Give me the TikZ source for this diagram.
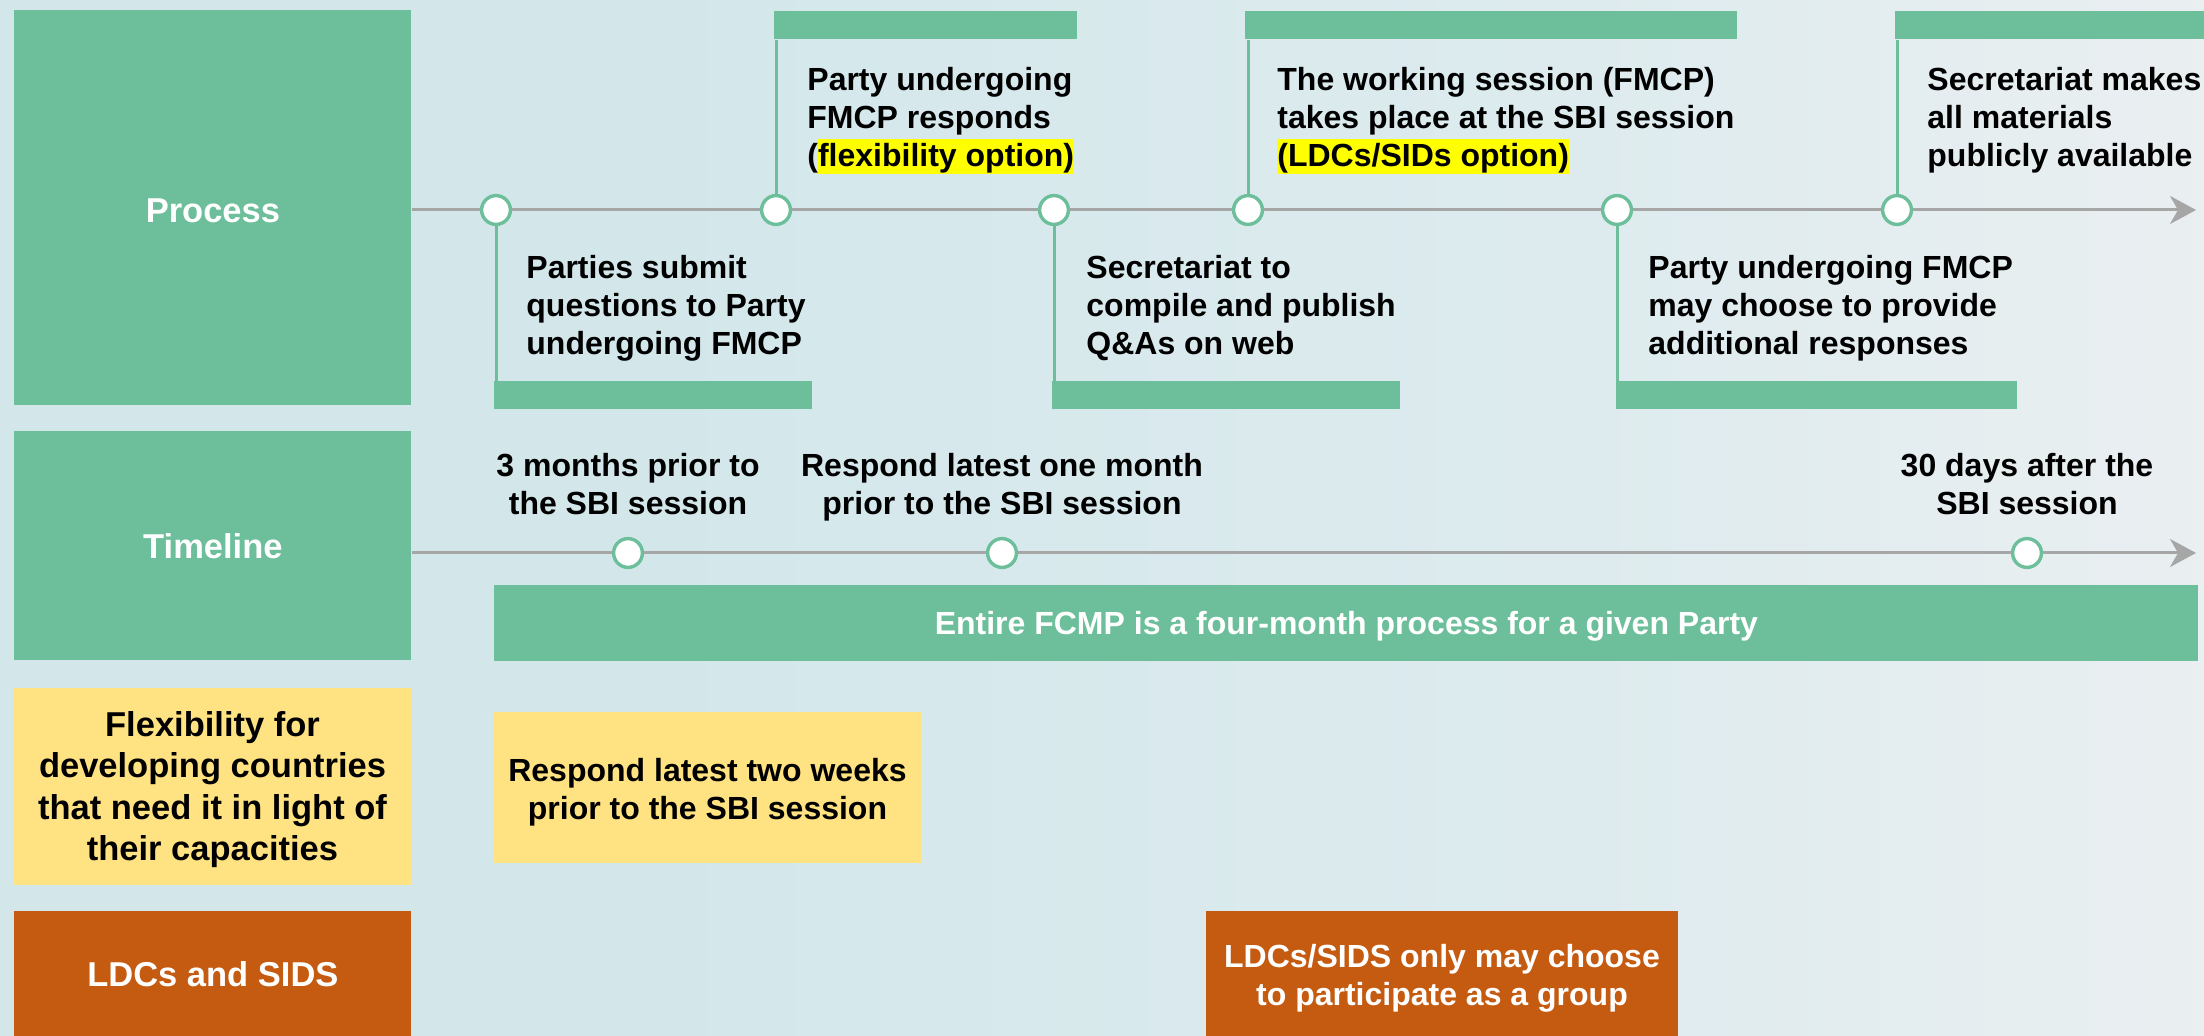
\documentclass[tikz,border=0pt]{standalone}
\usepackage{fontspec}
\setmainfont{Liberation Sans}
\usetikzlibrary{arrows.meta}
\definecolor{fgreen}{HTML}{6CBF9A}
\definecolor{fyellow}{HTML}{FFE281}
\definecolor{forange}{HTML}{C55A11}
\definecolor{lgray}{HTML}{A6A6A6}
\definecolor{hly}{HTML}{FFFF00}
\definecolor{bgA}{HTML}{CDDEE3}
\definecolor{bgB}{HTML}{D3E7EB}
\definecolor{bgC}{HTML}{DDEBEE}
\definecolor{bgD}{HTML}{EEF0F2}
\pgfdeclarehorizontalshading{bgshade}{100bp}{color(0bp)=(bgA); color(4bp)=(bgB); color(40bp)=(bgB); color(60bp)=(bgC); color(80bp)=(bgD); color(100bp)=(bgD)}
\newcommand{\hlt}[1]{{\setlength{\fboxsep}{0pt}\colorbox{hly}{\rule[-3.85pt]{0pt}{17.7pt}#1}}}
\begin{document}
\begin{tikzpicture}[x=0.5pt,y=-0.5pt,
  box/.style={fill=#1, draw=none, inner sep=0pt, anchor=north west},
  lbl/.style={font=\fontsize{17.25}{20.7}\selectfont\bfseries, align=center},
  txt/.style={font=\fontsize{16}{19}\selectfont\bfseries, inner sep=0pt},
  dot/.style={circle, draw=fgreen, line width=1.7pt, fill=white, minimum size=14.4pt, inner sep=0pt},
  conn/.style={draw=fgreen, line width=1.5pt},
  axis/.style={draw=lgray, line width=1.5pt, -{Stealth[length=13pt,width=14pt,inset=4pt]}}]
\useasboundingbox (0,0) rectangle (2204,1036);
\shade[shading=bgshade] (0,0) rectangle (2204,1036);

% left column
\node[box=fgreen, minimum width=198.5pt, minimum height=197.5pt, text=white, lbl, text height=14.5pt, text depth=0pt] (proc) at (14,10) {Process};
\node[box=fgreen, minimum width=198.5pt, minimum height=114.5pt, text=white, lbl] (tline) at (14,431) {Timeline};
\node[box=fyellow, minimum width=198.5pt, minimum height=98.5pt] (flex) at (14,688) {};
\node[lbl, inner sep=0pt, anchor=north] (flext) at (212.5,707) {\strut Flexibility for\\developing countries\\that need it in light of\\their capacities};
\node[box=forange, minimum width=198.5pt, minimum height=62.5pt, text=white, lbl] (ldc) at (14,911) {LDCs and SIDS};

% callout bars
\node[box=fgreen, minimum width=151.5pt, minimum height=14pt] (b2) at (774,11) {};
\node[box=fgreen, minimum width=246pt, minimum height=14pt] (b4) at (1245,11) {};
\node[box=fgreen, minimum width=155pt, minimum height=14pt] (b6) at (1895,11) {};
\node[box=fgreen, minimum width=159pt, minimum height=14pt] (b1) at (494,381) {};
\node[box=fgreen, minimum width=174pt, minimum height=14pt] (b3) at (1052,381) {};
\node[box=fgreen, minimum width=200.5pt, minimum height=14pt] (b5) at (1616,381) {};

% axes
\coordinate (ptip) at (2196,210);
\coordinate (ttip) at (2196,553);
\draw[axis] (proc.east |- ptip) -- (ptip);
\draw[axis] (tline.east |- ttip) -- (ttip);

% process milestones
\node[dot] (p1) at (496,210) {};
\node[dot] (p2) at (776,210) {};
\node[dot] (p3) at (1054,210) {};
\node[dot] (p4) at (1248,210) {};
\node[dot] (p5) at (1617,210) {};
\node[dot] (p6) at (1897,210) {};
\draw[conn] (p1.south) -- (p1.south |- b1.north);
\draw[conn] (p2.north) -- (p2.north |- b2.south);
\draw[conn] (p3.south) -- (p3.south |- b3.north);
\draw[conn] (p4.north) -- (p4.north |- b4.south);
\draw[conn] (p5.south) -- (p5.south |- b5.north);
\draw[conn] (p6.north) -- (p6.north |- b6.south);

% callout texts
\node[txt, anchor=north west, align=left] (c1) at (526,252) {\strut Parties submit\\questions to Party\\undergoing FMCP};
\node[txt, anchor=north west, align=left] (c2) at (807,63.5) {\strut Party undergoing\\FMCP responds\\(\hlt{flexibility option)}};
\node[txt, anchor=north west, align=left] (c3) at (1086,252) {\strut Secretariat to\\compile and publish\\Q\&As on web};
\node[txt, anchor=north west, align=left] (c4) at (1277,63.5) {\strut The working session (FMCP)\\takes place at the SBI session\\\hlt{(LDCs/SIDs option)}};
\node[txt, anchor=north west, align=left] (c5) at (1648,252) {\strut Party undergoing FMCP\\may choose to provide\\additional responses};
\node[txt, anchor=north west, align=left] (c6) at (1927,63.5) {\strut Secretariat makes\\all materials\\publicly available};

% timeline milestones
\node[dot] (t1) at (628,553) {};
\node[dot] (t2) at (1002,553) {};
\node[dot] (t3) at (2027,553) {};
\node[txt, anchor=north, align=center] (tl1) at (628,449.5) {\strut 3 months prior to\\the SBI session};
\node[txt, anchor=north, align=center] (tl2) at (1002,449.5) {\strut Respond latest one month\\prior to the SBI session};
\node[txt, anchor=north, align=center] (tl3) at (2027,449.5) {\strut 30 days after the\\SBI session};

\node[box=fgreen, minimum width=852pt, minimum height=38pt, txt, text=white, text depth=0pt] (entire) at (494,585) {Entire FCMP is a four-month process for a given Party};

% flexibility row
\node[box=fyellow, minimum width=213.5pt, minimum height=75.75pt] (twow) at (494,711.5) {};
\node[txt, anchor=north, align=center] (twowt) at (707.5,754.5) {\strut Respond latest two weeks\\prior to the SBI session};

% LDC row
\node[box=forange, minimum width=236pt, minimum height=62.5pt] (grp) at (1206,911) {};
\node[txt, anchor=north, align=center, text=white] (grpt) at (1442,940.5) {\strut LDCs/SIDS only may choose\\to participate as a group};
\end{tikzpicture}
\end{document}
